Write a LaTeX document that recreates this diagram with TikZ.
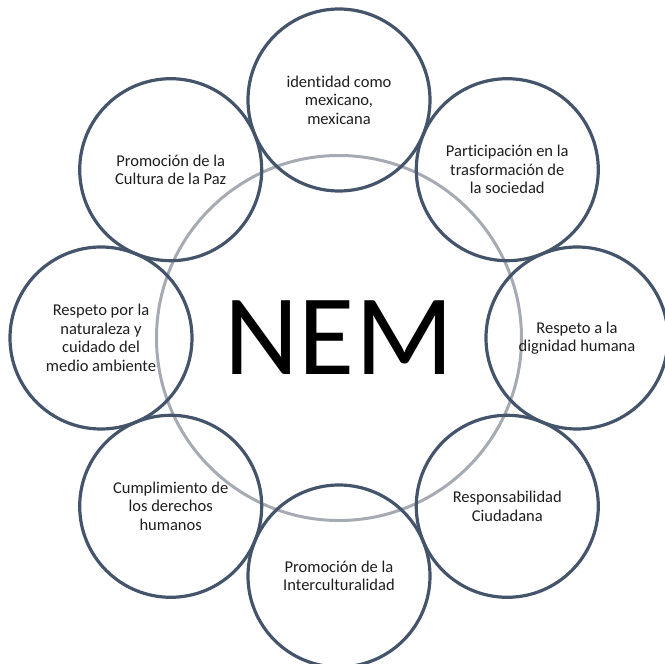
\documentclass[tikz,border=0pt]{standalone}
\usepackage{fontspec}
\setmainfont[Ligatures=NoCommon]{Carlito}
\definecolor{aro}{HTML}{44546A}
\definecolor{anillo}{HTML}{A6AAB2}
\definecolor{letra}{HTML}{1E1E1E}

\begin{document}
\begin{tikzpicture}[x=1pt,y=1pt,
  tema/.style={circle,draw=aro,line width=3.2pt,minimum size=182pt,inner sep=0pt,
    align=center,text=letra,font=\fontsize{16.5}{18.5}\selectfont},
  centro/.style={circle,draw=anillo,line width=3pt,minimum size=365pt,inner sep=0pt,
    text=black,font=\fontsize{115}{120}\selectfont}]
\useasboundingbox (-339,-326) rectangle (326,338);
\node[centro] (nem) at (0,0) {NEM};
\node[tema] (identidad)    at (90:238)  {identidad como\\mexicano,\\mexicana};
\node[tema] (participacion) at (45:238)  {Participación en la\\trasformación de\\la sociedad};
\node[tema] (dignidad)     at (0:238)   {Respeto a la\\dignidad humana};
\node[tema] (ciudadana)    at (-45:238) {Responsabilidad\\Ciudadana};
\node[tema] (intercultura) at (-90:238) {Promoción de la\\Interculturalidad};
\node[tema] (derechos)     at (-135:238) {Cumplimiento de\\los derechos\\humanos};
\node[tema] (naturaleza)   at (180:238) {Respeto por la\\naturaleza y\\cuidado del\\medio ambiente};
\node[tema] (paz)          at (135:238) {Promoción de la\\Cultura de la Paz};
\end{tikzpicture}
\end{document}
